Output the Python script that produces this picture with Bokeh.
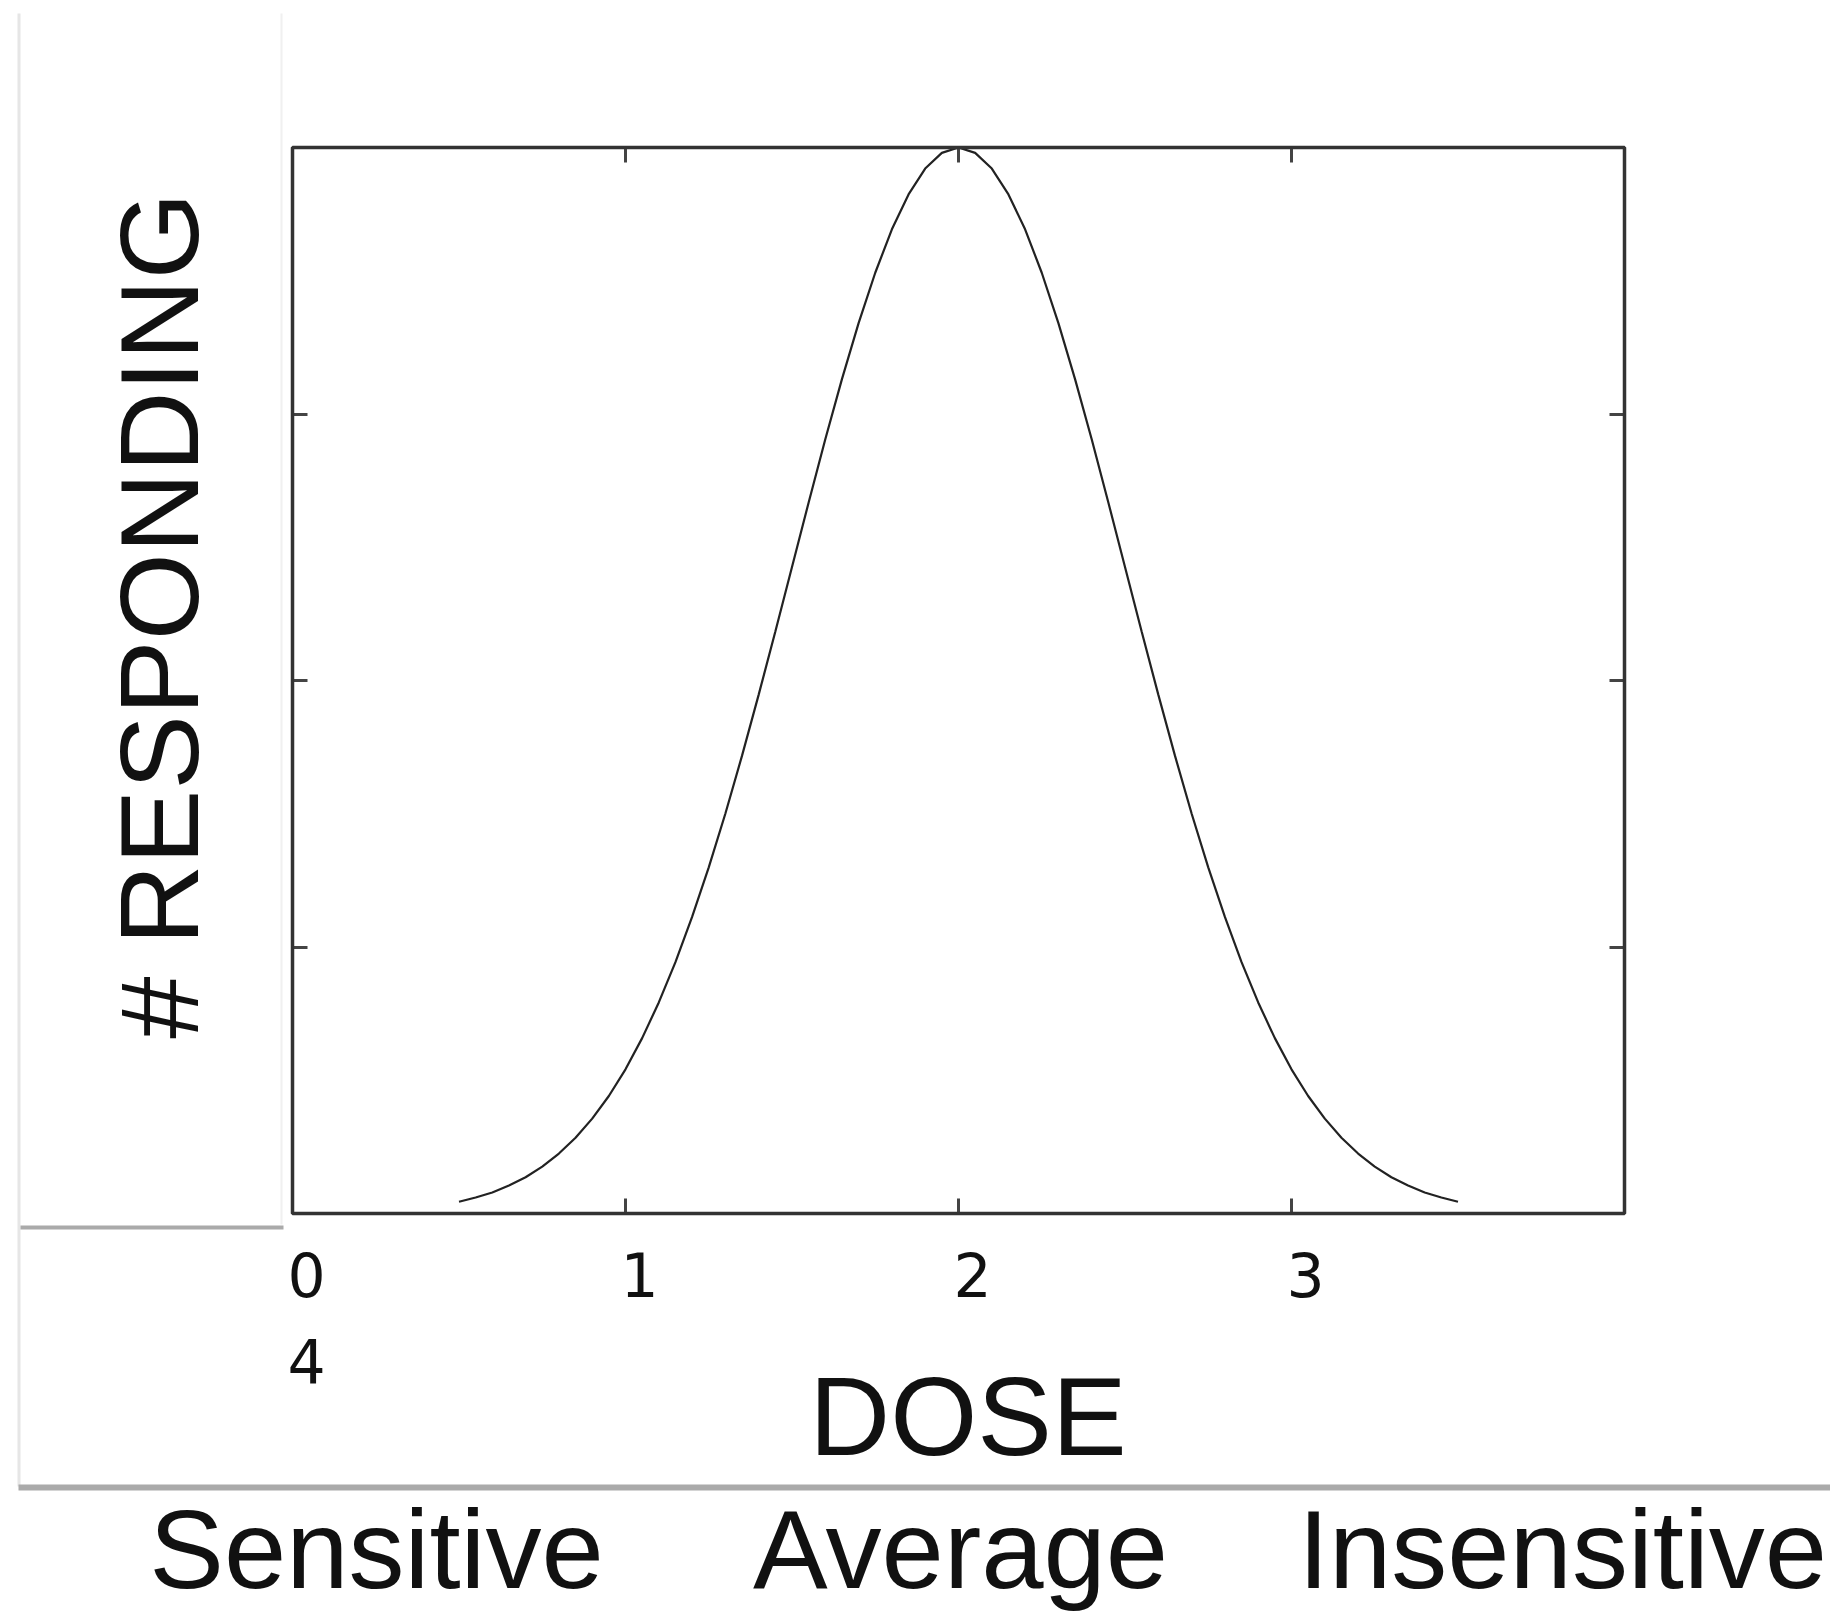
import math
from bokeh.plotting import figure
from bokeh.models import Range1d, LinearAxis, FixedTicker, BoxAnnotation
from bokeh.core.properties import value
from bokeh.embed import file_html
from bokeh.resources import INLINE

# ---- data ----
dose = [0.50, 0.55, 0.60, 0.65, 0.70, 0.75, 0.80, 0.85, 0.90, 0.95,
        1.00, 1.05, 1.10, 1.15, 1.20, 1.25, 1.30, 1.35, 1.40, 1.45,
        1.50, 1.55, 1.60, 1.65, 1.70, 1.75, 1.80, 1.85, 1.90, 1.95,
        2.00, 2.05, 2.10, 2.15, 2.20, 2.25, 2.30, 2.35, 2.40, 2.45,
        2.50, 2.55, 2.60, 2.65, 2.70, 2.75, 2.80, 2.85, 2.90, 2.95,
        3.00, 3.05, 3.10, 3.15, 3.20, 3.25, 3.30, 3.35, 3.40, 3.45, 3.50]
responding = [0.044, 0.060, 0.079, 0.105, 0.136, 0.176, 0.225, 0.284, 0.356, 0.441,
              0.541, 0.658, 0.792, 0.943, 1.113, 1.299, 1.501, 1.718, 1.947, 2.184,
              2.426, 2.668, 2.905, 3.131, 3.341, 3.530, 3.693, 3.824, 3.921, 3.980,
              4.000, 3.980, 3.921, 3.824, 3.693, 3.530, 3.341, 3.131, 2.905, 2.668,
              2.426, 2.184, 1.947, 1.718, 1.501, 1.299, 1.113, 0.943, 0.792, 0.658,
              0.541, 0.441, 0.356, 0.284, 0.225, 0.176, 0.136, 0.105, 0.079, 0.060, 0.044]
x_tick_values = [0, 1, 2, 3, 4]
x_tick_labels = ["0", "1", "2", "3", "4"]
inner_ticks = [1, 2, 3]
x_title = "DOSE"
y_title = "# RESPONDING"
categories = ["Sensitive", "Average", "Insensitive"]

# ---- layout (canvas pixels) ----
W, H = 1830, 1616
FL, FR, FT, FB = 292, 1624, 147, 1213      # plot box edges
X0, X1, Y0, Y1 = 0.0, 4.0, 0.0, 4.0        # data extent of the plot box
SX = (FR - FL) / (X1 - X0)
SY = (FB - FT) / (Y1 - Y0)
SMALL_SHIFT = 26   # baseline correction for the 60px labels
BIG_SHIFT = 41     # baseline correction for the 112px labels

def dx(px):
    return X0 + (px - FL) / SX

def dy(py):
    return Y0 + (FB - py) / SY

p = figure(width=W, height=H, output_backend="svg", toolbar_location=None,
           x_range=Range1d(dx(0), dx(W)), y_range=Range1d(dy(H), dy(0)),
           min_border=0, min_border_left=0, min_border_right=0,
           min_border_top=0, min_border_bottom=0,
           background_fill_color="white", border_fill_color="white")
p.grid.visible = False
p.outline_line_color = None

def style_axis(ax, loc):
    ax.fixed_location = loc
    ax.ticker = FixedTicker(ticks=inner_ticks)
    ax.major_tick_in = 15
    ax.major_tick_out = 0
    ax.minor_tick_line_color = None
    ax.major_tick_line_color = "#444444"
    ax.major_tick_line_width = 3
    ax.axis_line_color = None
    ax.major_label_text_font_size = "0px"
    ax.major_label_text_color = None

style_axis(p.xaxis[0], Y0)
style_axis(p.yaxis[0], X0)
top_ax = LinearAxis()
right_ax = LinearAxis()
style_axis(top_ax, Y1)
style_axis(right_ax, X1)
p.add_layout(top_ax, "above")
p.add_layout(right_ax, "right")

# page rules around the chart
def rule(l, r, t, b, color):
    p.add_layout(BoxAnnotation(left=dx(l), right=dx(r), top=dy(t), bottom=dy(b),
                               fill_color=color, fill_alpha=1.0, line_color=None,
                               level="underlay"))

rule(17, 20, 13, 1486, "#e6e6e6")
rule(280, 282, 13, 1224, "#f0f0f0")
rule(20, 283, 1225, 1229, "#aaaaaa")
rule(18, W, 1484, 1490, "#aaaaaa")

# plot box
p.add_layout(BoxAnnotation(left=X0, right=X1, bottom=Y0, top=Y1,
                           fill_alpha=0.0, line_color="#333333", line_alpha=1.0,
                           line_width=3.5, level="overlay"))

# the curve
p.line(dose, responding, line_color="#222222", line_width=2.2)

# tick labels (the last one wraps onto a second line under the first)
lab_off = 14 / SX
tx, ty = [], []
for i, v in enumerate(x_tick_values):
    if i < len(x_tick_values) - 1:
        tx.append(v + lab_off)
        ty.append(dy(1300 - SMALL_SHIFT))
    else:
        tx.append(x_tick_values[0] + lab_off)
        ty.append(dy(1386 - SMALL_SHIFT))
p.text(x=tx, y=ty, text=x_tick_labels, text_align="center", text_baseline="alphabetic",
       text_font=value("DejaVu Sans"), text_font_size=value("60px"), text_color="#111111")

big = dict(text_font=value("Liberation Sans"), text_font_size=value("112px"),
           text_color="#111111", text_baseline="alphabetic", text_align="center")
p.text(x=[dx(967.5)], y=[dy(1457 - BIG_SHIFT)], text=[x_title], **big)
p.text(x=[dx(200 - BIG_SHIFT)], y=[dy(615)], text=[y_title], angle=math.pi / 2, **big)
p.text(x=[dx(376), dx(960), dx(1562)], y=[dy(1590 - BIG_SHIFT)] * 3, text=categories, **big)

open("out.html", "w").write(file_html(p, INLINE))
